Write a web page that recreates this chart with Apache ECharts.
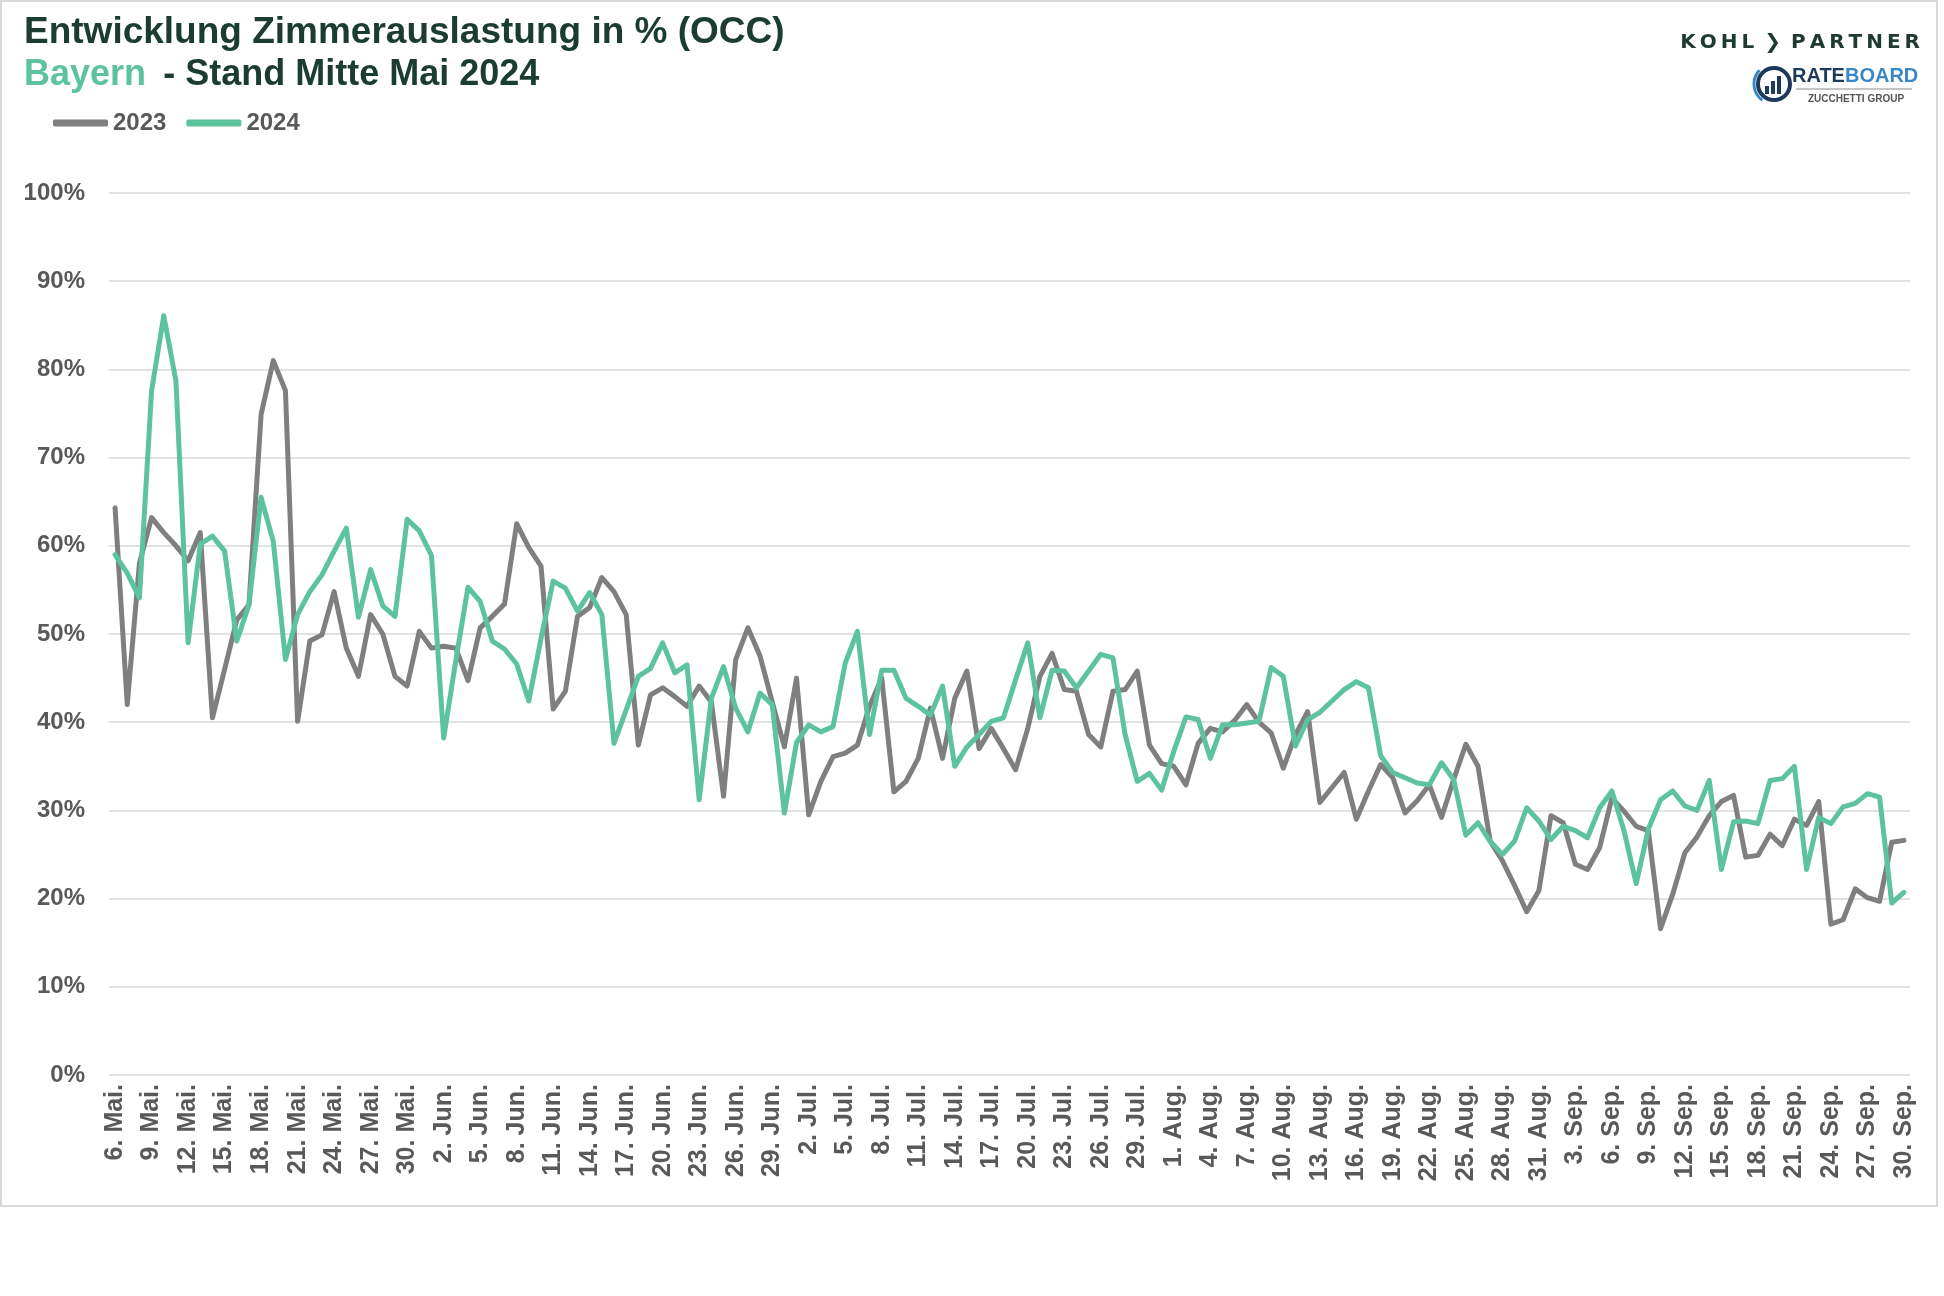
<!DOCTYPE html>
<html>
<head>
<meta charset="utf-8">
<script src="https://cdn.jsdelivr.net/npm/echarts@6/dist/echarts.min.js"></script>
<style>
html,body{margin:0;padding:0;background:#ffffff;}
#c{width:1944px;height:1296px;}
</style>
</head>
<body>
<div id="c"></div>
<script>
// Month spans for the category axis (day range per month)
const monthNames = ['Mai.', 'Jun.', 'Jul.', 'Aug.', 'Sep.'];
const monthFirstDay = [6, 1, 1, 1, 1];
const monthLastDay = [31, 30, 31, 31, 30];

const categories = [];
monthNames.forEach(function (m, i) {
  for (let d = monthFirstDay[i]; d <= monthLastDay[i]; d++) categories.push(d + '. ' + m);
});

const seriesNames = ['2023', '2024'];

// Zimmerauslastung 2023 (%), 6. Mai – 30. Sep.
const occ2023 = [
  64.3, 42.0, 58.0, 63.2, 61.5, 60.0, 58.3, 61.5, 40.5, 46.0,
  51.6, 53.3, 74.9, 81.0, 77.6, 40.1, 49.2, 49.9, 54.8, 48.4,
  45.2, 52.2, 50.0, 45.2, 44.1, 50.3, 48.4, 48.6, 48.4, 44.7,
  50.7, 52.0, 53.4, 62.5, 59.8, 57.7, 41.5, 43.5, 52.0, 53.0,
  56.4, 54.8, 52.2, 37.4, 43.1, 43.9, 42.9, 41.8, 44.1, 42.3,
  31.6, 47.1, 50.7, 47.5, 42.3, 37.2, 45.0, 29.5, 33.3, 36.1,
  36.5, 37.4, 41.8, 45.0, 32.1, 33.3, 35.9, 41.6, 35.9, 42.7,
  45.8, 37.0, 39.3, 37.0, 34.6, 39.3, 45.2, 47.8, 43.7, 43.5,
  38.6, 37.2, 43.5, 43.7, 45.8, 37.4, 35.3, 35.0, 32.9, 37.6,
  39.3, 38.9, 40.2, 42.0, 40.0, 38.8, 34.8, 38.6, 41.2, 30.9,
  32.6, 34.3, 29.0, 32.2, 35.2, 33.7, 29.7, 31.1, 32.9, 29.2,
  33.5, 37.5, 35.0, 26.5, 24.3, 21.5, 18.5, 20.9, 29.4, 28.6,
  23.9, 23.3, 25.8, 31.4, 29.9, 28.2, 27.7, 16.6, 20.5, 25.2,
  27.0, 29.4, 31.0, 31.7, 24.7, 24.9, 27.3, 26.0, 29.0, 28.3,
  31.0, 17.1, 17.6, 21.1, 20.1, 19.7, 26.4, 26.6
];

// Zimmerauslastung 2024 (%), 6. Mai – 30. Sep.
const occ2024 = [
  59.0, 56.9, 54.1, 77.6, 86.1, 78.7, 49.0, 60.2, 61.1, 59.4,
  49.2, 53.3, 65.5, 60.5, 47.1, 52.2, 54.8, 56.7, 59.4, 62.0,
  51.9, 57.3, 53.2, 52.0, 63.0, 61.7, 58.9, 38.2, 47.0, 55.3,
  53.7, 49.2, 48.3, 46.6, 42.4, 49.5, 56.0, 55.2, 52.6, 54.7,
  52.2, 37.6, 41.4, 45.2, 46.1, 49.0, 45.6, 46.5, 31.2, 42.7,
  46.3, 41.6, 38.9, 43.3, 42.0, 29.7, 37.7, 39.7, 38.9, 39.5,
  46.7, 50.3, 38.6, 45.9, 45.9, 42.7, 41.8, 40.8, 44.1, 35.0,
  37.2, 38.6, 40.1, 40.5, 44.8, 49.0, 40.5, 45.9, 45.8, 43.9,
  45.8, 47.7, 47.3, 38.6, 33.3, 34.2, 32.3, 36.7, 40.6, 40.3,
  35.9, 39.7, 39.7, 39.9, 40.1, 46.2, 45.2, 37.3, 40.3, 41.1,
  42.4, 43.7, 44.6, 43.9, 36.2, 34.3, 33.7, 33.1, 32.9, 35.4,
  33.5, 27.2, 28.6, 26.5, 25.0, 26.5, 30.3, 28.8, 26.7, 28.2,
  27.7, 26.9, 30.3, 32.2, 27.7, 21.7, 27.9, 31.2, 32.2, 30.5,
  30.0, 33.4, 23.3, 28.7, 28.8, 28.5, 33.4, 33.6, 35.0, 23.3,
  29.2, 28.5, 30.4, 30.8, 31.9, 31.5, 19.5, 20.7
];

const yMin = 0, yMax = 100, yStep = 10;

const FONT = '"Liberation Sans", Arial, sans-serif';
const DARK = '#1b3d30';
const TEAL = '#5cc39e';
const GREY = '#7f7f7f';
const LABEL = '#595959';

const chart = echarts.init(document.getElementById('c'), null, {renderer: 'canvas'});

const logoText = 'K\u2009O\u2009H\u2009L\u2002\u276F\u2002P\u2009A\u2009R\u2009T\u2009N\u2009E\u2009R';

chart.setOption({
  backgroundColor: '#ffffff',
  animation: false,
  textStyle: {fontFamily: FONT},
  grid: {left: 109, right: 34, top: 193, bottom: 221, containLabel: false},
  legend: {
    left: 48, top: 106,
    itemWidth: 55, itemHeight: 7, itemGap: 20,
    icon: 'roundRect',
    data: seriesNames,
    textStyle: {fontSize: 24, fontWeight: 'bold', color: LABEL, fontFamily: FONT}
  },
  xAxis: {
    type: 'category',
    data: categories,
    boundaryGap: true,
    axisLine: {show: false},
    axisTick: {show: false},
    splitLine: {show: false},
    axisLabel: {
      interval: 2, rotate: 90, margin: 9,
      fontSize: 25, fontWeight: 'bold', color: LABEL, fontFamily: FONT
    }
  },
  yAxis: {
    type: 'value',
    min: yMin, max: yMax, interval: yStep,
    axisLine: {show: false},
    axisTick: {show: false},
    splitLine: {lineStyle: {color: '#d9d9d9', width: 1.5}},
    axisLabel: {
      formatter: '{value}%', margin: 24,
      fontSize: 24, fontWeight: 'bold', color: LABEL, fontFamily: FONT
    }
  },
  series: [
    {
      name: seriesNames[0], type: 'line', data: occ2023,
      symbol: 'none', smooth: false, color: GREY,
      lineStyle: {width: 5, color: GREY, join: 'round', cap: 'round'}
    },
    {
      name: seriesNames[1], type: 'line', data: occ2024,
      symbol: 'none', smooth: false, color: TEAL,
      lineStyle: {width: 5, color: TEAL, join: 'round', cap: 'round'}
    }
  ],
  graphic: [
    {type: 'rect', silent: true, shape: {x: 1, y: 1, width: 1936, height: 1205},
     style: {fill: 'none', stroke: '#d9d9d9', lineWidth: 2}},
    {type: 'text', x: 24, y: 33,
     style: {text: 'Entwicklung Zimmerauslastung in % (OCC)', font: 'bold 37px ' + FONT, fill: DARK, verticalAlign: 'middle'}},
    {type: 'text', x: 24, y: 75,
     style: {text: '{g|Bayern}{d| \u2009- Stand Mitte Mai 2024}', verticalAlign: 'middle',
       rich: {
         g: {font: 'bold 36px ' + FONT, fill: TEAL, color: TEAL},
         d: {font: 'bold 36px ' + FONT, fill: DARK, color: DARK}
       }}},
    // Logo: KOHL > PARTNER
    {type: 'text', x: 1920, y: 43,
     style: {text: logoText, font: 'bold 20px "DejaVu Sans", sans-serif', fill: '#1f3b31', align: 'right', verticalAlign: 'middle'}},
    // Rateboard icon
    {type: 'circle', shape: {cx: 1774, cy: 84, r: 16},
     style: {fill: '#ffffff', stroke: '#1d3a5c', lineWidth: 4}},
    {type: 'arc', shape: {cx: 1774, cy: 84, r: 20, startAngle: 2.2, endAngle: 3.9},
     style: {stroke: '#3a87c8', lineWidth: 3, fill: 'none'}},
    {type: 'rect', shape: {x: 1765, y: 86, width: 4, height: 8}, style: {fill: '#1d3a5c'}},
    {type: 'rect', shape: {x: 1771, y: 81, width: 4, height: 13}, style: {fill: '#1d3a5c'}},
    {type: 'rect', shape: {x: 1777, y: 76, width: 4, height: 18}, style: {fill: '#1d3a5c'}},
    {type: 'text', x: 1792, y: 76,
     style: {text: '{r|RATE}{b|BOARD}', verticalAlign: 'middle',
       rich: {
         r: {font: 'bold 20px "Liberation Sans Narrow", "Liberation Sans", sans-serif', fill: '#1d3a5c', color: '#1d3a5c'},
         b: {font: 'bold 20px "Liberation Sans Narrow", "Liberation Sans", sans-serif', fill: '#3a87c8', color: '#3a87c8'}
       }}},
    {type: 'line', shape: {x1: 1796, y1: 89, x2: 1912, y2: 89}, style: {stroke: '#8a8a8a', lineWidth: 1}},
    {type: 'text', x: 1856, y: 99,
     style: {text: 'ZUCCHETTI GROUP', font: 'bold 10px "Liberation Sans Narrow", "Liberation Sans", sans-serif', fill: '#555555', align: 'center', verticalAlign: 'middle'}}
  ]
});
</script>
</body>
</html>
